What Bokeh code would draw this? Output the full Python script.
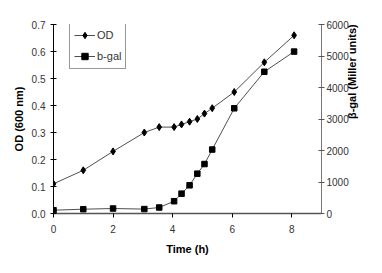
import math
from bokeh.plotting import figure
from bokeh.models import LinearAxis, Range1d, Legend, LegendItem, FixedTicker, NumeralTickFormatter
from bokeh.embed import file_html
from bokeh.resources import INLINE

time_h = [0, 1, 2, 3.05, 3.55, 4.05, 4.3, 4.57, 4.83, 5.07, 5.33, 6.07, 7.08, 8.08]
od_600 = [0.11, 0.16, 0.23, 0.30, 0.32, 0.32, 0.33, 0.34, 0.35, 0.37, 0.39, 0.45, 0.56, 0.66]
bgal = [105, 136, 158, 140, 190, 390, 630, 895, 1264, 1570, 2030, 3340, 4500, 5140]
x_ticks = [0, 2, 4, 6, 8]
od_ticks = [0.0, 0.1, 0.2, 0.3, 0.4, 0.5, 0.6, 0.7]
bgal_ticks = [0, 1000, 2000, 3000, 4000, 5000, 6000]

FONT = "Liberation Sans"

p = figure(width=366, height=257, output_backend="svg", toolbar_location=None,
           x_range=Range1d(0, 9), y_range=Range1d(0, 0.7),
           min_border_left=53, min_border_right=40, min_border_top=24, min_border_bottom=44)
p.outline_line_color = None
p.grid.visible = False
p.background_fill_color = "white"

p.extra_y_ranges = {"bgal": Range1d(0, 6000)}

l1 = p.line(time_h, od_600, line_color="#222222", line_width=0.8)
m1 = p.scatter(time_h, od_600, marker="diamond", size=7, fill_color="black", line_color="black")
l2 = p.line(time_h, bgal, line_color="#222222", line_width=0.8, y_range_name="bgal")
m2 = p.scatter(time_h, bgal, marker="square", size=5.5, fill_color="black", line_color="black", y_range_name="bgal")

ax_r = LinearAxis(y_range_name="bgal", axis_label="β-gal (Miller units)")
p.add_layout(ax_r, "right")

p.xaxis.ticker = FixedTicker(ticks=x_ticks)
p.yaxis[0].ticker = FixedTicker(ticks=od_ticks)
p.yaxis[0].formatter = NumeralTickFormatter(format="0.0")
ax_r.ticker = FixedTicker(ticks=bgal_ticks)

p.xaxis.axis_label = "Time (h)"
p.yaxis[0].axis_label = "OD (600 nm)"

for ax in [p.xaxis[0], p.yaxis[0], ax_r]:
    ax.major_label_text_font = FONT
    ax.major_label_text_font_size = "10px"
    ax.major_label_text_color = "#333333"
    ax.axis_label_text_font = FONT
    ax.axis_label_text_font_size = "11px"
    ax.axis_label_text_font_style = "bold"
    ax.axis_label_text_color = "black"
    ax.minor_tick_line_color = None
    ax.major_tick_in = 3
    ax.major_tick_out = 3
    ax.axis_line_width = 1

p.xaxis[0].major_tick_in = 0
p.xaxis[0].major_tick_out = 4
p.xaxis[0].axis_line_color = "#555555"
p.xaxis[0].axis_line_width = 1.5
p.xaxis[0].major_label_standoff = 7
p.xaxis[0].axis_label_standoff = 7
p.yaxis[0].axis_line_color = "black"
p.yaxis[0].major_label_standoff = 5
p.yaxis[0].axis_label_standoff = 4
ax_r.axis_line_color = "#777777"
ax_r.major_tick_line_color = "#555555"
ax_r.major_label_standoff = 2
ax_r.axis_label_standoff = 0
ax_r.axis_label_orientation = math.pi / 2

legend = Legend(items=[LegendItem(label="OD", renderers=[l1, m1]),
                       LegendItem(label="b-gal", renderers=[l2, m2])],
                location=(16, 144))
legend.label_text_font = FONT
legend.label_text_font_size = "11px"
legend.label_text_color = "#333333"
legend.border_line_color = "#333333"
legend.border_line_width = 1
legend.padding = 4
legend.spacing = 5
legend.margin = 0
legend.glyph_width = 21
legend.glyph_height = 16
legend.label_height = 16
legend.label_width = 10
legend.label_standoff = 2
legend.background_fill_alpha = 1
p.add_layout(legend, "center")

open("out.html", "w").write(file_html(p, INLINE))
